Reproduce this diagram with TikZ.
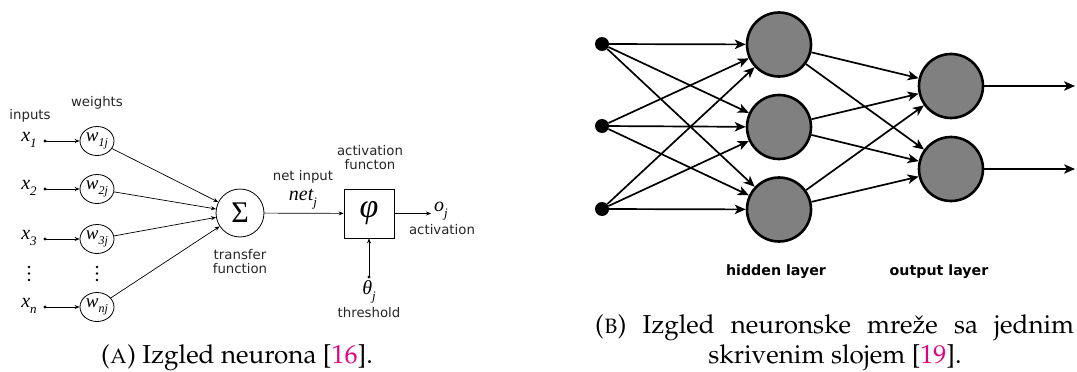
\documentclass[tikz,border=0pt]{standalone}
\usepackage[T1]{fontenc}
\usepackage{fontspec}
\usetikzlibrary{arrows.meta,shapes.geometric}
\newfontfamily\dvs{DejaVu Sans}
\newfontfamily\timesf{Liberation Serif}
\newcommand\palfont{\fontencoding{T1}\fontfamily{ppl}\selectfont}
\newcommand\sbs[1]{\raisebox{-0.28em}{\fontsize{13}{13}\selectfont #1}}
\newcommand\wsbs[1]{\raisebox{-0.25em}{\fontsize{12}{12}\selectfont #1}}
\definecolor{citec}{RGB}{230,0,126}
\definecolor{neurongray}{RGB}{128,128,128}
\begin{document}
\begin{tikzpicture}[x=1pt,y=-1pt,
  lbl/.style={font=\dvs\fontsize{13.3}{14}\selectfont, align=center, inner sep=0, text=black!85},
  blbl/.style={font=\dvs\bfseries\fontsize{14.2}{15}\selectfont, inner sep=0},
  mth/.style={font=\timesf\itshape\fontsize{20}{20}\selectfont, inner sep=0},
  wnode/.style={draw, ellipse, minimum width=34, minimum height=29, inner sep=0, line width=0.8, font=\timesf\itshape\fontsize{19}{19}\selectfont},
  smalldot/.style={circle, fill=black, minimum size=3.2, inner sep=0},
  sarrow/.style={-{Stealth[length=5pt,width=4pt]}, line width=0.7},
  neuron/.style={circle, draw, line width=2.6, fill=neurongray, minimum size=64, inner sep=0},
  inp/.style={circle, fill=black, minimum size=14, inner sep=0},
  bigarrow/.style={-{Stealth[length=11pt,width=9.5pt,inset=3pt]}, line width=1.7},
  captxt/.style={font=\palfont\fontsize{26}{30}\selectfont, inner sep=0}
]
\useasboundingbox (0,0) rectangle (1077,372);

% ---------- (A) neuron ----------
\node[lbl] (inputs) at (30,116) {inputs};
\node[lbl] (weights) at (97,103) {weights};

\node[mth] (x1) at (29,140) {x\sbs{1}};
\node[mth] (x2) at (29,188) {x\sbs{2}};
\node[mth] (x3) at (29,238) {x\sbs{3}};
\node[mth] (xn) at (29,306) {x\sbs{n}};

\node[smalldot] (d1) at (45,141) {};
\node[smalldot] (d2) at (45,189) {};
\node[smalldot] (d3) at (45,239) {};
\node[smalldot] (dn) at (45,307) {};

\node[wnode] (w1) at (97,141) {w\wsbs{1j}};
\node[wnode] (w2) at (97,189) {w\wsbs{2j}};
\node[wnode] (w3) at (97,239) {w\wsbs{3j}};
\node[wnode] (wn) at (97,307) {w\wsbs{nj}};

\foreach \yy in {267,273.5,280}{
  \fill (29,\yy) circle (1.3);
  \fill (97,\yy) circle (1.3);
}

\node[circle, draw, line width=0.8, minimum size=48, inner sep=0, font=\timesf\fontsize{30}{30}\selectfont] (sig) at (240,213) {Σ};
\node[lbl] (transfer) at (240,262) {transfer\\function};

\node[draw, line width=0.8, minimum width=50, minimum height=49, inner sep=0, font=\timesf\itshape\fontsize{34}{34}\selectfont] (phi) at (369,213.5) {φ};
\node[lbl] (netinput) at (303,177) {net input};
\node[mth] (netj) at (303,199) {net\sbs{j}};
\node[lbl] (actfun) at (370,158) {activation\\functon};

\coordinate (oend) at (431,213.5);
\node[mth] (oj) at (441,211) {o\sbs{j}};
\node[lbl] (activation) at (442,230) {activation};

\node[smalldot] (thd) at (369,277) {};
\node[mth] (theta) at (369,292) {θ\sbs{j}};
\node[lbl] (threshold) at (369,313) {threshold};

\foreach \i in {1,2,3,n}{
  \draw[sarrow] (d\i.center) -- (w\i);
  \draw[sarrow] (w\i) -- (sig);
}
\draw[sarrow] (sig) -- (phi);
\draw[sarrow] (phi) -- (oend);
\draw[sarrow] (thd.center) -- (phi);

\node[captxt, anchor=base] (capA) at (237,363) {(\textsc{a}) Izgled neurona [{\color{citec}16}].};

% ---------- (B) network ----------
\node[inp] (i1) at (602,44) {};
\node[inp] (i2) at (602,126) {};
\node[inp] (i3) at (602,209) {};

\node[neuron] (h1) at (779,44.5) {};
\node[neuron] (h2) at (779,127) {};
\node[neuron] (h3) at (779,209.5) {};

\node[neuron] (o1) at (951,86) {};
\node[neuron] (o2) at (951,169) {};

\coordinate (e1) at (1075,86);
\coordinate (e2) at (1075,169);

\foreach \i in {1,2,3}{
  \foreach \h in {1,2,3}{
    \draw[bigarrow] (i\i) -- (h\h);
  }
  \foreach \o in {1,2}{
    \draw[bigarrow] (h\i) -- (o\o);
  }
}
\draw[bigarrow] (o1) -- (e1);
\draw[bigarrow] (o2) -- (e2);

\node[blbl] (hidden) at (776,272) {hidden layer};
\node[blbl] (output) at (939,272) {output layer};

\node[captxt, anchor=base west] (capB1) at (595,333) {\makebox[479pt][s]{(\textsc{b}) Izgled neuronske mre\v{z}e sa jednim}};
\node[captxt, anchor=base] (capB2) at (835,363) {skrivenim slojem [{\color{citec}19}].};
\end{tikzpicture}
\end{document}
